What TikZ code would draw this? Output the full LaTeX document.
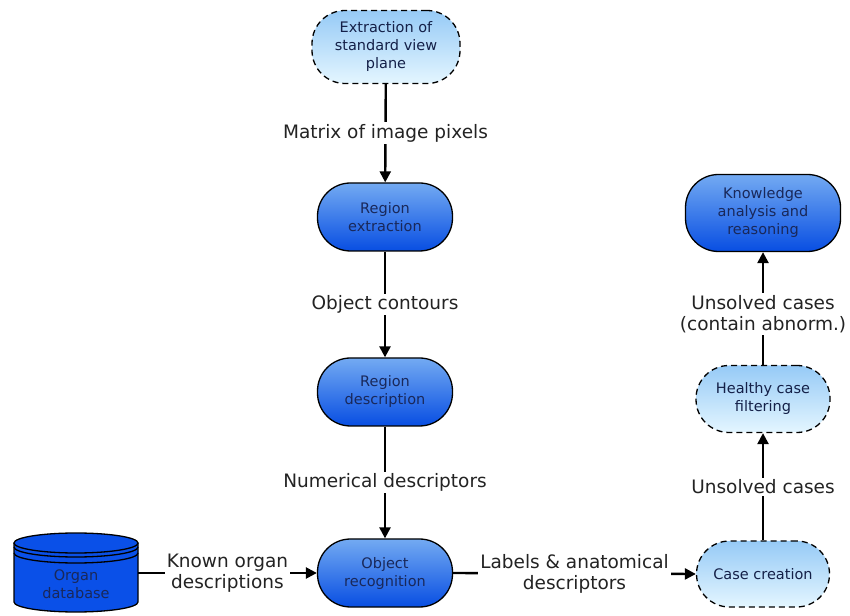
\documentclass[tikz,border=0pt]{standalone}
\usepackage{fontspec}
\setmainfont{DejaVu Sans}
\usetikzlibrary{arrows.meta}
\definecolor{navy}{RGB}{25,40,90}
\definecolor{lblgray}{RGB}{35,35,35}
\definecolor{dkTop}{RGB}{115,170,242}
\definecolor{dkBot}{RGB}{8,78,226}
\definecolor{ltTop}{RGB}{150,202,246}
\definecolor{ltBot}{RGB}{228,246,255}
\definecolor{dbblue}{RGB}{10,80,232}
\tikzset{
  x=1pt,y=1pt,
  procbox/.style={draw=black,line width=1.3pt,rounded corners=33pt,top color=dkTop,bottom color=dkBot,
    align=center,font=\fontsize{14.5}{18}\selectfont,text=navy,inner sep=0pt},
  lightbox/.style={draw=black,line width=1.3pt,dash pattern=on 6pt off 4pt,rounded corners=33pt,top color=ltTop,bottom color=ltBot,
    align=center,font=\fontsize{14.5}{18}\selectfont,text=navy!80!black,inner sep=0pt},
  flow/.style={line width=2.4pt,-{Triangle[length=11pt,width=11pt]}},
  lbl/.style={fill=white,align=center,font=\fontsize{18.5}{21}\selectfont,text=lblgray,inner sep=2pt}
}
\begin{document}
\begin{tikzpicture}
\useasboundingbox (0,0) rectangle (850,615);
\node[lightbox,minimum width=148,minimum height=73] (ext) at (386,568) {Extraction of\\standard view\\plane};
\node[procbox,minimum width=135,minimum height=68] (rext) at (385,398) {Region\\extraction};
\node[procbox,minimum width=135,minimum height=68] (rdes) at (385,223) {Region\\description};
\node[procbox,minimum width=135,minimum height=68] (orec) at (385,42) {Object\\recognition};
\node[lightbox,minimum width=133,minimum height=66] (case) at (763,41) {Case creation};
\node[lightbox,minimum width=134,minimum height=67] (heal) at (763,216) {Healthy case\\filtering};
\node[procbox,minimum width=155,minimum height=77] (know) at (763,402) {Knowledge\\analysis and\\reasoning};
% database cylinder
\fill[dbblue] (14,72) -- (14,13) arc(180:360:62 and 10) -- (138,72) arc(0:180:62 and 10) -- cycle;
\draw[line width=1.3pt] (14,72) -- (14,13) arc(180:360:62 and 10) -- (138,72);
\draw[line width=1.3pt] (76,72) ellipse (62 and 10);
\draw[line width=1.3pt] (14,68) arc(180:360:62 and 10);
\draw[line width=1.3pt] (14,62) arc(180:360:62 and 10);
\node[align=center,font=\fontsize{14.5}{18}\selectfont,text=navy] (db) at (76,31) {Organ\\database};
\coordinate (dbE) at (138,42);
% connectors
\draw[flow] (ext) -- node[lbl]{Matrix of image pixels} (rext);
\draw[flow] (rext) -- node[lbl]{Object contours} (rdes);
\draw[flow] (rdes) -- node[lbl]{Numerical descriptors} (orec);
\draw[flow] (dbE) -- node[lbl]{Known organ\\descriptions} (orec.west);
\draw[flow] (orec.east) -- node[lbl]{Labels \& anatomical\\descriptors} (case.west);
\draw[flow] (case) -- node[lbl]{Unsolved cases} (heal);
\draw[flow] (heal) -- node[lbl,pos=0.45]{Unsolved cases\\(contain abnorm.)} (know);
\end{tikzpicture}
\end{document}
